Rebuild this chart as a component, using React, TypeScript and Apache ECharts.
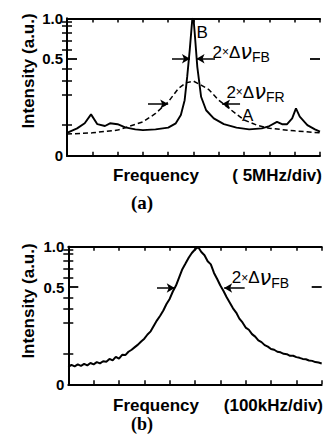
import React, { useEffect, useRef } from 'react';
import * as echarts from 'echarts';

// Panel (a): frequency in divisions (5 MHz/div), intensity (a.u.)
const freqSolidA = [0, 0.4, 0.7, 0.95, 1.2, 1.5, 1.7, 2.0, 2.3, 2.7, 3.0, 3.5, 4.0, 4.3, 4.5, 4.65, 4.75, 4.85, 4.95, 5.0, 5.05, 5.15, 5.3, 5.5, 5.8, 6.2, 6.7, 7.2, 7.7, 8.0, 8.3, 8.5, 8.7, 8.9, 9.05, 9.2, 9.5, 9.8, 10];
const intensitySolidB = [0.028, 0.04, 0.056, 0.091, 0.053, 0.047, 0.056, 0.053, 0.043, 0.037, 0.035, 0.037, 0.042, 0.056, 0.088, 0.164, 0.33, 0.59, 0.98, 1.0, 0.79, 0.42, 0.185, 0.11, 0.074, 0.053, 0.042, 0.037, 0.04, 0.047, 0.061, 0.053, 0.053, 0.074, 0.119, 0.081, 0.05, 0.037, 0.031];
const freqDashedA = [0, 1, 2, 3, 3.5, 4, 4.4, 4.7, 5, 5.3, 5.6, 6, 6.5, 7, 7.5, 8, 9, 10];
const intensityDashedA = [0.025, 0.028, 0.035, 0.061, 0.095, 0.154, 0.24, 0.282, 0.296, 0.265, 0.233, 0.164, 0.11, 0.068, 0.05, 0.04, 0.033, 0.028];

// Panel (b): frequency in divisions (100 kHz/div), sampled every 1/8 div
const intensityB = [
  0.016, 0.020, 0.017, 0.021, 0.018, 0.022, 0.019, 0.024, 0.021, 0.026, 0.023, 0.028, 0.027, 0.034, 0.030, 0.040,
  0.035, 0.046, 0.045, 0.056, 0.063, 0.073, 0.083, 0.097, 0.110, 0.131, 0.148, 0.181, 0.216, 0.248, 0.288, 0.340,
  0.385, 0.455, 0.515, 0.605, 0.700, 0.770, 0.845, 0.910, 0.960, 0.995, 0.925, 0.880, 0.800, 0.760, 0.655, 0.585,
  0.515, 0.460, 0.400, 0.352, 0.305, 0.272, 0.228, 0.202, 0.170, 0.157, 0.133, 0.120, 0.102, 0.094, 0.081, 0.075,
  0.066, 0.063, 0.056, 0.054, 0.049, 0.048, 0.043, 0.043, 0.039, 0.037, 0.034, 0.033, 0.030, 0.029, 0.026, 0.025,
  0.023,
];
const freqStepB = 0.125;

// Axis ticks (intensity values; the axis is square-root scaled)
const yMinorTicks = [0.05, 0.2, 0.3, 0.4, 0.6, 0.7, 0.8, 0.9, 0.95];
const yMajorTick = [0.5];
const yLabelValues = [0, 0.5, 1.0];

const s = (v: number) => Math.sqrt(v);
const FONT = 'Liberation Sans';

export default function App() {
  const ref = useRef<HTMLDivElement>(null);
  useEffect(() => {
    document.body.style.margin = '0';
    const chart = echarts.init(ref.current!, null, { renderer: 'svg' });

    const grids = [
      { left: 67, top: 18.5, width: 253, height: 137.3 },
      { left: 68.3, top: 246.7, width: 253.4, height: 137.6 },
    ];

    const xAxes: any[] = [];
    const yAxes: any[] = [];
    grids.forEach((_, g) => {
      ['bottom', 'top'].forEach((pos) => {
        xAxes.push({
          gridIndex: g, type: 'value', position: pos, min: 0, max: 10, interval: 1,
          axisLine: { show: true, onZero: false, lineStyle: { color: '#000', width: 2 } },
          axisTick: { show: true, inside: true, length: 4, lineStyle: { color: '#000', width: 1.5 } },
          axisLabel: { show: false }, splitLine: { show: false },
        });
      });
      yAxes.push({
        gridIndex: g, type: 'value', position: 'left', min: 0, max: 1,
        axisLine: { show: true, lineStyle: { color: '#000', width: 2 } },
        axisTick: { show: true, inside: true, length: 5, customValues: yMinorTicks.map(s), lineStyle: { color: '#000', width: 1.5 } },
        axisLabel: {
          show: true, customValues: yLabelValues.map(s), margin: 4, color: '#000', fontSize: 15, fontFamily: FONT, fontWeight: 'bold',
          formatter: (v: number) => { const r = Math.round(v * v * 10) / 10; return r === 0 ? '0' : r.toFixed(1); },
        },
        splitLine: { show: false },
      });
      yAxes.push({
        gridIndex: g, type: 'value', position: 'right', min: 0, max: 1,
        axisLine: { show: true, lineStyle: { color: '#000', width: 2 } },
        axisTick: { show: true, inside: true, length: 5, customValues: yMinorTicks.map(s), lineStyle: { color: '#000', width: 1.5 } },
        axisLabel: { show: false }, splitLine: { show: false },
      });
      ['left', 'right'].forEach((pos) => {
        yAxes.push({
          gridIndex: g, type: 'value', position: pos, min: 0, max: 1,
          axisLine: { show: false },
          axisTick: { show: true, inside: true, length: 10, customValues: yMajorTick.map(s), lineStyle: { color: '#000', width: 1.8 } },
          axisLabel: { show: false }, splitLine: { show: false },
        });
      });
    });

    const arrowLine = (x1: number, x2: number, v: number) => [
      { coord: [x1, s(v)] },
      { coord: [x2, s(v)] },
    ];
    const markLineBase = {
      silent: true, symbol: ['none', 'arrow'], symbolSize: [7, 8],
      lineStyle: { color: '#000', width: 1.5, type: 'solid' },
      label: { show: false },
    };
    const rich = {
      a: { fontSize: 17, fontFamily: FONT, color: '#000', lineHeight: 24, verticalAlign: 'middle' },
      x: { fontSize: 12, fontFamily: FONT, color: '#000', lineHeight: 24, verticalAlign: 'middle' },
      n: { fontSize: 21, fontFamily: 'DejaVu Sans', fontStyle: 'italic', color: '#000', lineHeight: 24, verticalAlign: 'middle' },
      s: { fontSize: 14, fontFamily: FONT, color: '#000', lineHeight: 24, verticalAlign: 'bottom' },
      t: { fontSize: 17, fontFamily: FONT, color: '#000' },
    };
    const textPoint = (x: number, v: number, text: string) => ({
      coord: [x, s(v)], value: 0,
      label: { show: true, position: 'right', distance: 0, formatter: text, rich },
    });
    const markPointBase = { silent: true, symbol: 'circle', symbolSize: 0, itemStyle: { color: 'transparent' } };

    const txt = (text: string, x: number, y: number, align: string, font: string, rotation = 0) => ({
      type: 'text', x, y, rotation, style: { text, font, fill: '#000', align, verticalAlign: 'middle' },
    });
    const labelFont = `bold 17px "${FONT}"`;

    const option: any = {
      animation: false,
      grid: grids,
      xAxis: xAxes,
      yAxis: yAxes,
      series: [
        {
          type: 'line', xAxisIndex: 0, yAxisIndex: 0, showSymbol: false, symbol: 'none',
          data: freqSolidA.map((f, i) => [f, s(intensitySolidB[i])]),
          lineStyle: { color: '#000', width: 1.9 },
          markLine: { ...markLineBase, data: [arrowLine(4.15, 4.86, 0.5), arrowLine(5.85, 5.12, 0.5)] },
          markPoint: {
            ...markPointBase,
            data: [
              textPoint(5.12, 0.8, '{t|B}'),
              textPoint(5.75, 0.57, '{a|2}{x|×}{a|Δ}{n|ν}{s|FB}'),
              textPoint(6.3, 0.215, '{a|2}{x|×}{a|Δ}{n|ν}{s|FR}'),
              textPoint(6.92, 0.088, '{t|A}'),
            ],
          },
        },
        {
          type: 'line', xAxisIndex: 0, yAxisIndex: 0, showSymbol: false, symbol: 'none',
          data: freqDashedA.map((f, i) => [f, s(intensityDashedA[i])]),
          lineStyle: { color: '#000', width: 1.5, type: [5, 3] },
          markLine: { ...markLineBase, data: [arrowLine(3.2, 4.0, 0.142), arrowLine(6.84, 6.13, 0.142)] },
        },
        {
          type: 'line', xAxisIndex: 2, yAxisIndex: 4, showSymbol: false, symbol: 'none',
          data: intensityB.map((v, i) => [i * freqStepB, s(v)]),
          lineStyle: { color: '#000', width: 2 },
          markLine: { ...markLineBase, data: [arrowLine(3.5, 4.2, 0.49), arrowLine(6.96, 6.15, 0.49)] },
          markPoint: {
            ...markPointBase,
            data: [textPoint(6.45, 0.6, '{a|2}{x|×}{a|Δ}{n|ν}{s|FB}')],
          },
        },
      ],
      graphic: [
        txt('Intensity (a.u.)', 28, 71, 'center', labelFont, Math.PI / 2),
        txt('Intensity (a.u.)', 28, 301, 'center', labelFont, Math.PI / 2),
        txt('Frequency', 113, 175, 'left', labelFont),
        txt('( 5MHz/div)', 322, 175, 'right', labelFont),
        txt('(a)', 142, 202, 'center', 'bold 19px "Liberation Serif"'),
        txt('Frequency', 113, 405, 'left', labelFont),
        txt('(100kHz/div)', 323, 405, 'right', labelFont),
        txt('(b)', 142, 424, 'center', 'bold 18px "Liberation Serif"'),
      ],
    };
    chart.setOption(option);
    return () => chart.dispose();
  }, []);
  return <div ref={ref} style={{ position: 'fixed', left: 0, top: 0, width: 324, height: 434, background: '#fff' }} />;
}
